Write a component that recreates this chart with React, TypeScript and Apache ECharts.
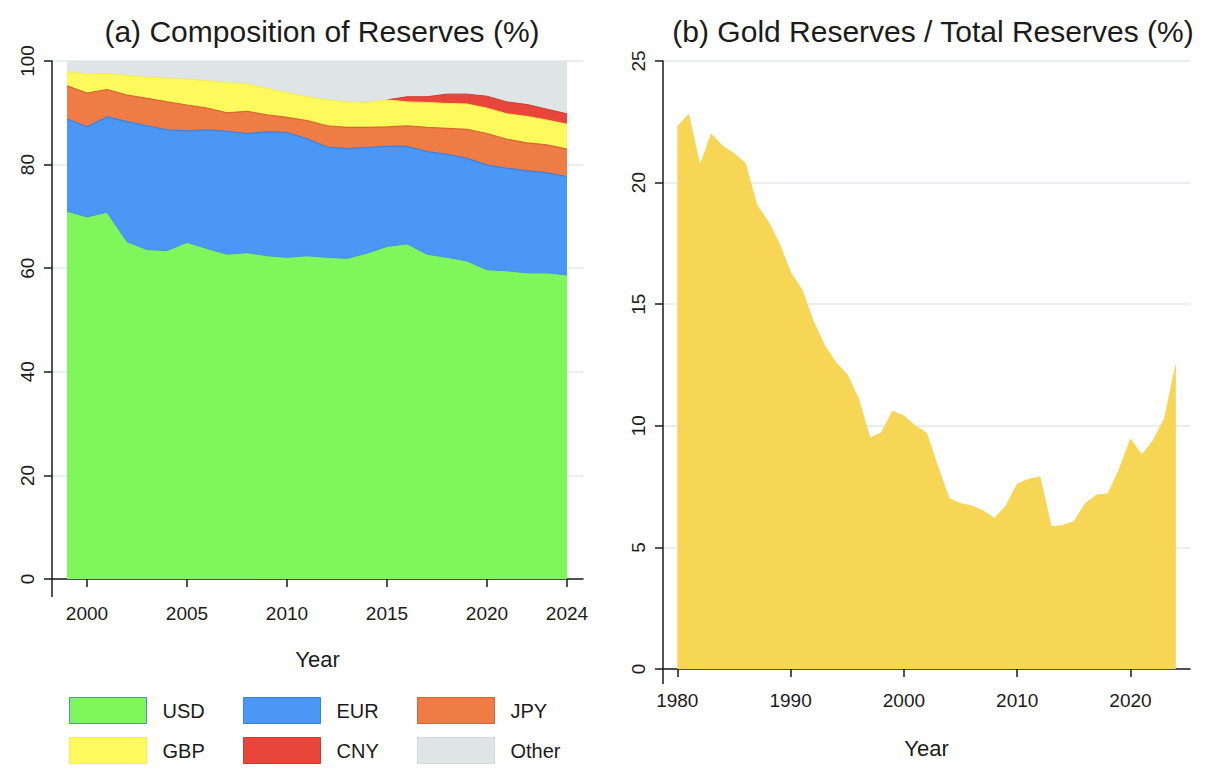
import React, { useEffect, useRef } from "react";
import * as echarts from "echarts";

// Panel (a): currency composition of reserves, shares in %
const compYears = [
  1999, 2000, 2001, 2002, 2003, 2004, 2005, 2006, 2007, 2008, 2009, 2010, 2011,
  2012, 2013, 2014, 2015, 2016, 2017, 2018, 2019, 2020, 2021, 2022, 2023, 2024,
];
const usd = [
  71.0, 69.9, 70.8, 65.1, 63.6, 63.4, 65.0, 63.8, 62.7, 63.0, 62.4, 62.1, 62.4,
  62.1, 61.9, 62.9, 64.2, 64.7, 62.7, 62.1, 61.4, 59.7, 59.5, 59.1, 59.1, 58.7,
];
const eur = [
  17.8, 17.4, 18.4, 23.2, 23.9, 23.3, 21.5, 22.9, 23.7, 23.0, 23.9, 24.1, 22.6,
  21.3, 21.2, 20.4, 19.3, 18.8, 19.8, 19.9, 19.8, 20.2, 19.8, 19.7, 19.3, 19.0,
];
const jpy = [
  6.4, 6.5, 5.3, 5.1, 5.3, 5.4, 5.0, 4.2, 3.6, 4.3, 3.3, 2.9, 3.5,
  4.1, 4.1, 3.9, 3.8, 4.0, 4.7, 5.0, 5.6, 6.1, 5.6, 5.4, 5.4, 5.3,
];
const gbp = [
  2.7, 3.7, 3.1, 3.8, 4.1, 4.6, 5.0, 5.3, 5.8, 5.3, 5.1, 4.8, 4.6,
  5.0, 4.9, 4.8, 5.2, 4.6, 4.8, 4.8, 4.9, 4.9, 4.9, 5.1, 4.8, 4.8,
];
const cny = [
  null, null, null, null, null, null, null, null, null, null, null, null, null,
  null, null, null, 0, 1.0, 1.1, 1.8, 1.9, 2.3, 2.3, 2.3, 2.1, 2.0,
];
const other = [
  2.1, 2.5, 2.4, 2.8, 3.1, 3.3, 3.5, 3.8, 4.2, 4.4, 5.3, 6.1, 6.9,
  7.5, 7.9, 8.0, 7.5, 6.9, 6.9, 6.4, 6.4, 6.8, 7.9, 8.4, 9.3, 10.2,
];

// Panel (b): gold as a share of total reserves, %
const goldYears = [
  1980, 1981, 1982, 1983, 1984, 1985, 1986, 1987, 1988, 1989, 1990, 1991, 1992,
  1993, 1994, 1995, 1996, 1997, 1998, 1999, 2000, 2001, 2002, 2003, 2004, 2005,
  2006, 2007, 2008, 2009, 2010, 2011, 2012, 2013, 2014, 2015, 2016, 2017, 2018,
  2019, 2020, 2021, 2022, 2023, 2024,
];
const goldShare = [
  22.3, 22.8, 20.7, 22.0, 21.5, 21.2, 20.8, 19.1, 18.4, 17.5, 16.3, 15.6, 14.3,
  13.3, 12.6, 12.1, 11.1, 9.5, 9.7, 10.6, 10.4, 10.0, 9.7, 8.3, 7.0, 6.8,
  6.7, 6.5, 6.2, 6.7, 7.6, 7.8, 7.9, 5.85, 5.9, 6.05, 6.8, 7.15, 7.2,
  8.2, 9.45, 8.8, 9.4, 10.3, 12.5,
];

const compTicks = [2000, 2005, 2010, 2015, 2020, 2024];
const goldTicks = [1980, 1990, 2000, 2010, 2020];

const FONT = "'Liberation Sans', Arial, Helvetica, sans-serif";
const INK = "#1b1b1b";

// Stacking order from the bottom up, with fill and outline colours
const layers = [
  { name: "USD", values: usd, fill: "#7ef65c", edge: "#4a8fe6", width: 1 },
  { name: "EUR", values: eur, fill: "#4b97f5", edge: "#3a82dc", width: 1.2 },
  { name: "JPY", values: jpy, fill: "#ef7b45", edge: "#d9662f", width: 1.2 },
  { name: "GBP", values: gbp, fill: "#fef95d", edge: "#f3ec52", width: 1 },
  { name: "CNY", values: cny, fill: "#e8463a", edge: "#cf3a2f", width: 1 },
  { name: "Other", values: other, fill: "#dfe4e7", edge: "#dfe4e7", width: 0 },
];

// Running totals: each layer is drawn as an area from zero up to its cumulative
// share, tallest first, so that the lower layers paint over the upper ones.
function cumulativeLayers() {
  const running = compYears.map(() => 0);
  return layers.map((layer) => {
    const tops = layer.values.map((v, i) => {
      if (v === null) return null;
      running[i] += v;
      return running[i];
    });
    // years with no entry still carry the total below them
    return { ...layer, tops };
  });
}

const yearLabel = (v: number) => String(v);

export default function App() {
  const ref = useRef<HTMLDivElement>(null);

  useEffect(() => {
    if (!ref.current) return;
    const chart = echarts.init(ref.current, null, { renderer: "svg" });

    const axisLine = { lineStyle: { color: INK, width: 1.5 } };
    const axisTick = { length: 8, lineStyle: { color: INK, width: 1.5 } };
    const splitLine = { show: true, lineStyle: { color: "#e4e8eb", width: 1.5 } };
    const tickLabel = { color: INK, fontSize: 19, fontFamily: FONT };

    const stacked = cumulativeLayers();
    const areaSeries = stacked
      .slice()
      .reverse()
      .map((layer) => ({
        name: layer.name,
        type: "line",
        xAxisIndex: 0,
        yAxisIndex: 0,
        symbol: "none",
        data: compYears.map((yr, i) => [yr, layer.tops[i]]),
        itemStyle: { color: layer.fill },
        lineStyle: { color: layer.edge, width: layer.width },
        areaStyle: { color: layer.fill, opacity: 1 },
      }));

    const legendColumn = (left: number, names: string[]) => ({
      left,
      top: 697,
      padding: 0,
      orient: "vertical",
      icon: "rect",
      itemWidth: 77,
      itemHeight: 26,
      itemGap: 13,
      selectedMode: false,
      textStyle: {
        color: INK,
        fontSize: 20,
        fontFamily: FONT,
        padding: [0, 0, 0, 11],
      },
      data: names.map((n) => {
        const layer = layers.find((l) => l.name === n)!;
        return {
          name: n,
          itemStyle: { color: layer.fill, borderColor: layer.edge === layer.fill ? "#d3d8db" : layer.edge, borderWidth: 1 },
        };
      }),
    });

    chart.setOption({
      animation: false,
      backgroundColor: "#ffffff",
      textStyle: { fontFamily: FONT },
      title: [
        {
          text: "(a) Composition of Reserves (%)",
          left: 317,
          textAlign: "center",
          top: 11,
          textStyle: { color: INK, fontSize: 30, fontWeight: "normal", fontFamily: FONT },
        },
        {
          text: "(b) Gold Reserves / Total Reserves (%)",
          left: 928,
          textAlign: "center",
          top: 11,
          textStyle: { color: INK, fontSize: 30, fontWeight: "normal", fontFamily: FONT },
        },
      ],
      legend: [
        legendColumn(69, ["USD", "GBP"]),
        legendColumn(243, ["EUR", "CNY"]),
        legendColumn(417, ["JPY", "Other"]),
      ],
      grid: [
        { left: 52, top: 61, width: 531, height: 518 },
        { left: 663, top: 61, width: 527, height: 608 },
      ],
      xAxis: [
        {
          gridIndex: 0,
          type: "value",
          min: 1998.25,
          max: 2024.8,
          offset: 17,
          axisLine,
          axisTick: { ...axisTick, customValues: compTicks },
          axisLabel: { ...tickLabel, margin: 8, customValues: compTicks, formatter: yearLabel },
          splitLine: { show: false },
          name: "Year",
          nameLocation: "middle",
          nameGap: 52,
          nameTextStyle: { color: INK, fontSize: 22, fontFamily: FONT },
        },
        {
          gridIndex: 1,
          type: "value",
          min: 1978.74,
          max: 2025.25,
          offset: 14,
          axisLine,
          axisTick: { ...axisTick, customValues: goldTicks },
          axisLabel: { ...tickLabel, margin: 8, customValues: goldTicks, formatter: yearLabel },
          splitLine: { show: false },
          name: "Year",
          nameLocation: "middle",
          nameGap: 54,
          nameTextStyle: { color: INK, fontSize: 22, fontFamily: FONT },
        },
      ],
      yAxis: [
        {
          gridIndex: 0,
          type: "value",
          min: 0,
          max: 100,
          interval: 20,
          axisLine: { show: true, ...axisLine },
          axisTick,
          axisLabel: { ...tickLabel, rotate: 90, margin: 15 },
          splitLine,
        },
        {
          gridIndex: 1,
          type: "value",
          min: 0,
          max: 25,
          interval: 5,
          axisLine: { show: true, ...axisLine },
          axisTick,
          axisLabel: { ...tickLabel, rotate: 90, margin: 15 },
          splitLine,
        },
      ],
      // vertical axis lines run down to the offset horizontal axes
      graphic: [
        {
          type: "line",
          shape: { x1: 52, y1: 578, x2: 52, y2: 597 },
          style: { stroke: INK, lineWidth: 1.5 },
          silent: true,
        },
        {
          type: "line",
          shape: { x1: 663, y1: 668, x2: 663, y2: 684 },
          style: { stroke: INK, lineWidth: 1.5 },
          silent: true,
        },
      ],
      series: [
        ...areaSeries,
        {
          name: "Gold",
          type: "line",
          xAxisIndex: 1,
          yAxisIndex: 1,
          symbol: "none",
          data: goldYears.map((yr, i) => [yr, goldShare[i]]),
          itemStyle: { color: "#f6d654" },
          lineStyle: { color: "#f6d654", width: 1 },
          areaStyle: { color: "#f6d654", opacity: 1 },
        },
      ],
    });

    return () => chart.dispose();
  }, []);

  return (
    <div
      ref={ref}
      style={{ position: "absolute", left: 0, top: 0, width: 1209, height: 768 }}
    />
  );
}
